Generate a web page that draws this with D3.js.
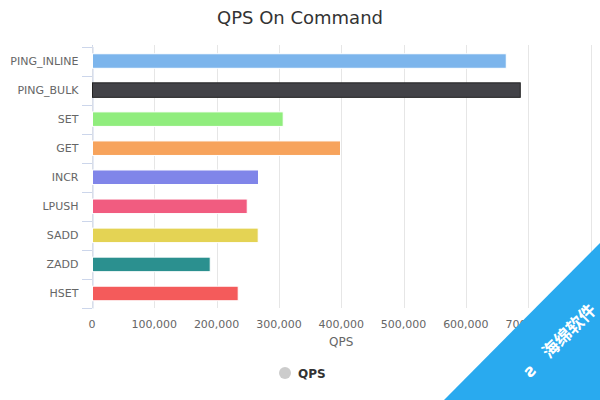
<!DOCTYPE html>
<html><head><meta charset="utf-8">
<script src="https://cdn.jsdelivr.net/npm/d3@7"></script>
<style>body{margin:0;background:#fff}svg{display:block;font-family:"DejaVu Sans",sans-serif}</style>
</head><body><svg id="c" width="600" height="400"></svg>
<script>
const categories = ["PING_INLINE","PING_BULK","SET","GET","INCR","LPUSH","SADD","ZADD","HSET"];
const qpsValues = [664000, 686500, 306000, 398000, 266400, 248300, 265900, 188900, 233800];
const barColors = ["#7cb5ec","#434348","#90ed7d","#f7a35c","#8085e9","#f15c80","#e4d354","#2b908f","#f45b5b"];
const gridTicks = [0,100000,200000,300000,400000,500000,600000,700000,800000];
const labelTicks = [0,100000,200000,300000,400000,500000,600000,700000];
const chartTitle = "QPS On Command";
const seriesName = "QPS";

const svg = d3.select("#c");
const top0 = 46.5, bot0 = 308, left0 = 92;
const x = d3.scaleLinear().domain([0,800000]).range([left0, 590.5]);
const y = d3.scaleBand().domain(categories).range([top0, bot0]).paddingInner(0.5).paddingOuter(0.25);
const yb = d3.scaleBand().domain(categories).range([top0, bot0]);

svg.append("text").attr("x",300).attr("y",24).attr("text-anchor","middle")
  .attr("font-size",18).attr("fill","#333").text(chartTitle);

// grid
svg.append("g").selectAll("line").data(gridTicks).join("line")
  .attr("x1",d=>Math.round(x(d))+0.5).attr("x2",d=>Math.round(x(d))+0.5)
  .attr("y1",45).attr("y2",bot0).attr("stroke","#e6e6e6");

// x labels
svg.append("g").selectAll("text").data(labelTicks).join("text")
  .attr("x",d=>x(d)).attr("y",328).attr("text-anchor","middle")
  .attr("font-size",11).attr("fill","#666").text(d=>d3.format(",")(d));
svg.append("text").attr("x",(x(0)+x(800000))/2).attr("y",346).attr("text-anchor","middle")
  .attr("font-size",12).attr("fill","#666").text(seriesName);

// y axis
const yAxis = d3.axisLeft(yb).tickSize(0).tickPadding(14);
const ga = svg.append("g").attr("transform",`translate(${left0+0.5},0)`).call(yAxis);
ga.select(".domain").attr("stroke","#ccd6eb");
ga.selectAll("text").attr("font-size",11).attr("fill","#666").attr("font-family","DejaVu Sans");
svg.append("line").attr("x1",left0+0.5).attr("x2",left0+0.5).attr("y1",45).attr("y2",top0).attr("stroke","#ccd6eb");
// boundary ticks
const bounds = categories.map(c=>yb(c)).concat([bot0]);
svg.append("g").selectAll("line").data(bounds).join("line")
  .attr("x1",left0-10).attr("x2",left0).attr("y1",d=>Math.round(d)+0.5).attr("y2",d=>Math.round(d)+0.5)
  .attr("stroke","#ccd6eb");

// bars
svg.append("g").selectAll("rect").data(categories).join("rect")
  .attr("x",x(0)+0.5).attr("y",c=>y(c)).attr("height",y.bandwidth())
  .attr("width",(c,i)=>x(qpsValues[i])-x(0))
  .attr("fill",(c,i)=>barColors[i])
  .attr("stroke",(c,i)=>i===1?"#222":"#fff").attr("stroke-width",1);

// legend
svg.append("circle").attr("cx",285).attr("cy",373).attr("r",6).attr("fill","#ccc");
svg.append("text").attr("x",298).attr("y",377.5).attr("font-size",12).attr("font-weight","bold")
  .attr("fill","#333").text(seriesName);

// watermark corner
svg.append("path").attr("d","M444,400 L600,243 L600,400 Z").attr("fill","#29aaef");
const wm = svg.append("g").attr("transform","translate(562,338) rotate(-45)");
wm.append("text").attr("x",10).attr("y",6).attr("text-anchor","middle").attr("font-size",17)
  .attr("font-weight","bold").attr("fill","#fff").attr("font-family","Noto Sans CJK SC").text("海绵软件");
wm.append("text").attr("x",-46).attr("y",6).attr("text-anchor","middle").attr("font-size",17)
  .attr("font-weight","bold").attr("fill","#fff").attr("font-family","DejaVu Sans").text("ƨ");
</script></body></html>
